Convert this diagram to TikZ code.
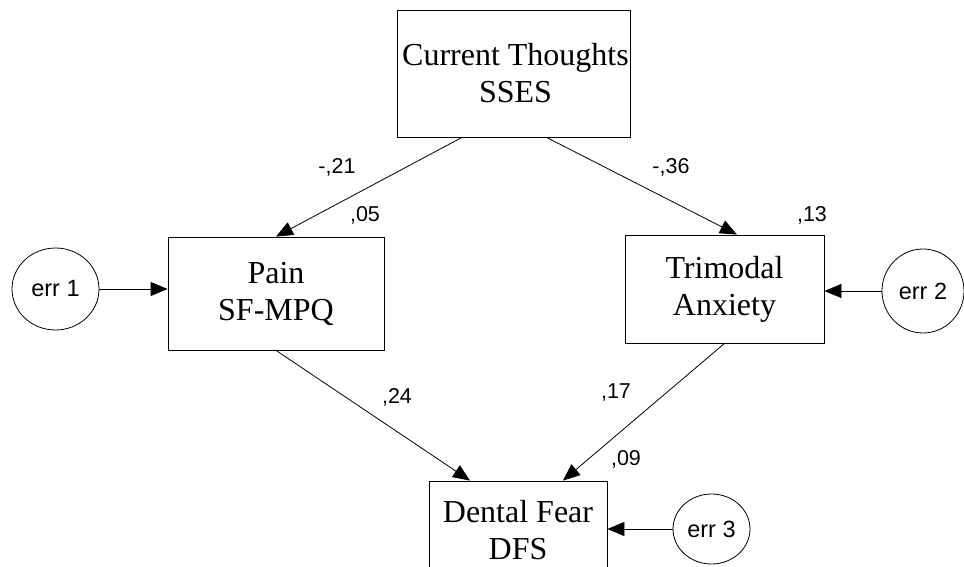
\documentclass[tikz,border=0pt]{standalone}
\usepackage{fontspec}
\setmainfont{Liberation Serif}
\newfontfamily\numfont{Liberation Sans}
\usetikzlibrary{arrows.meta,shapes.geometric}

\tikzset{
  var/.style={draw, line width=.8pt, align=center, inner sep=0pt,
    font=\fontsize{32}{37}\selectfont},
  err/.style={draw, ellipse, line width=.8pt, inner sep=0pt,
    font=\numfont\fontsize{23.5}{27}\selectfont},
  reg/.style={line width=.8pt, -{Triangle[length=17pt,width=14pt]}},
  est/.style={font=\numfont\fontsize{21.5}{25}\selectfont}
}

\begin{document}
\begin{tikzpicture}[x=1pt,y=-1pt]
\useasboundingbox (0,0) rectangle (964,567);
% Observed variables
\node[var, minimum width=233pt, minimum height=127pt] (ct) at (513.5,73.5)
  {\hspace*{4pt}Current Thoughts\\\hspace*{4pt}SSES};
\node[var, minimum width=216pt, minimum height=113pt] (pain) at (276,293.5)
  {Pain\\SF-MPQ};
\node[var, minimum width=199pt, minimum height=108pt] (tri) at (724.5,289)
  {Trimodal\\Anxiety};
\node[var, minimum width=178pt, minimum height=98pt] (dfs) at (518,530)
  {Dental Fear\\DFS};
% Error terms
\node[err, minimum width=87pt, minimum height=82pt] (e1) at (55.5,289) {err 1};
\node[err, minimum width=82pt, minimum height=84pt] (e2) at (923,291) {err 2};
\node[err, minimum width=77pt, minimum height=70pt] (e3) at (711.5,529) {err 3};
% Regression paths
\draw[reg] ([xshift=-51.5pt]ct.south) -- (pain.north);
\draw[reg] ([xshift=33pt]ct.south) -- ([xshift=12.5pt]tri.north);
\draw[reg] (pain.south) -- ([xshift=-48pt]dfs.north);
\draw[reg] (tri.south) -- ([xshift=45pt]dfs.north);
\draw[reg] (e1) -- (e1 -| pain.west);
\draw[reg] (e2) -- (e2 -| tri.east);
\draw[reg] (e3) -- (e3 -| dfs.east);
% Estimates
\node[est] (b1) at (337,167) {-,21};
\node[est] (b2) at (671,167) {-,36};
\node[est] (b3) at (397,397) {,24};
\node[est] (b4) at (616,392) {,17};
\node[est] (r1) at (365,215) {,05};
\node[est] (r2) at (812,215) {,13};
\node[est] (r3) at (626,459) {,09};
\end{tikzpicture}
\end{document}
